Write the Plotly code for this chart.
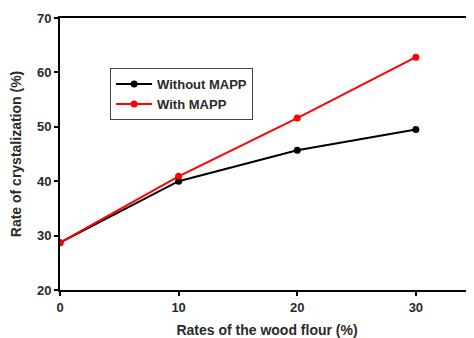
import plotly.graph_objects as go

wood_flour = [0, 10, 20, 30]
without_mapp = [28.7, 40.0, 45.7, 49.5]
with_mapp = [28.7, 40.9, 51.6, 62.8]
x_ticks = [0, 10, 20, 30]
y_ticks = [20, 30, 40, 50, 60, 70]

font_family = "Liberation Sans, Arial, sans-serif"
text_color = "#2a2a2a"

fig = go.Figure()
fig.add_trace(go.Scatter(
    x=wood_flour, y=without_mapp, mode="lines+markers", name="<b>Without MAPP</b>",
    line=dict(color="black", width=2), marker=dict(color="black", size=7)))
fig.add_trace(go.Scatter(
    x=wood_flour, y=with_mapp, mode="lines+markers", name="<b>With MAPP</b>",
    line=dict(color="red", width=2), marker=dict(color="red", size=7)))

fig.update_layout(
    width=466, height=330,
    margin=dict(l=52, r=0, t=10, b=48, pad=0, autoexpand=False),
    paper_bgcolor="white", plot_bgcolor="white",
    font=dict(family=font_family, color=text_color, size=12),
    showlegend=True,
    legend=dict(
        x=0.121, y=0.816, xanchor="left", yanchor="top",
        bordercolor="#444", borderwidth=1, bgcolor="white",
        font=dict(size=13, color=text_color, family=font_family),
        tracegroupgap=0, itemwidth=36),
    xaxis=dict(
        range=[0, 34.9], tickvals=x_ticks, ticktext=[f"<b>{t}</b>" for t in x_ticks],
        showgrid=False, zeroline=False, showline=True, linecolor="black", linewidth=2,
        mirror=True, ticks="outside", ticklen=4, tickwidth=2, tickcolor="black",
        tickfont=dict(size=13, color=text_color), automargin=False,
        title=dict(text="<b>Rates of the wood flour (%)</b>", font=dict(size=14, color=text_color), standoff=12)),
    yaxis=dict(
        range=[20, 70], tickvals=y_ticks, ticktext=[f"<b>{t}</b>" for t in y_ticks],
        showgrid=False, zeroline=False, showline=True, linecolor="black", linewidth=2,
        ticks="outside", ticklen=4, tickwidth=2, tickcolor="black",
        tickfont=dict(size=13, color=text_color), automargin=False,
        title=dict(text="<b>Rate of crystalization (%)</b>", font=dict(size=14, color=text_color), standoff=12)),
)

fig.write_html("out.html")
